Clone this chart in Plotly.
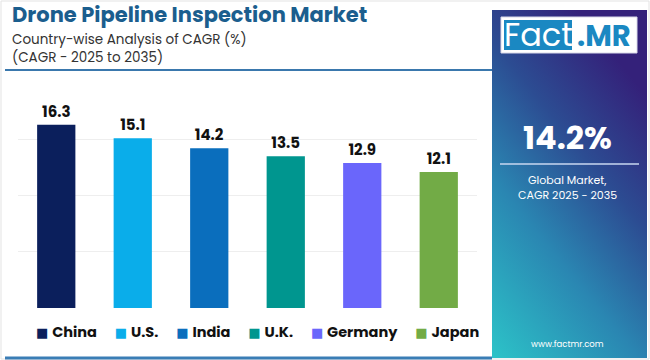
import base64
import plotly.graph_objects as go

countries = ["China", "U.S.", "India", "U.K.", "Germany", "Japan"]
cagr = [16.3, 15.1, 14.2, 13.5, 12.9, 12.1]
colors = ["#0b1f5c", "#0aadea", "#0a6ebd", "#00968f", "#6a66fb", "#72ab46"]

title = "Drone Pipeline Inspection Market"
subtitle1 = "Country-wise Analysis of CAGR (%)"
subtitle2 = "(CAGR - 2025 to 2035)"
global_value = "14.2%"
global_label1 = "Global Market,"
global_label2 = "CAGR 2025 - 2035"
website = "www.factmr.com"

W, H = 650, 360
FONT = "Poppins, Inter, 'Open Sans', sans-serif"

def px(x):
    return x / W

def py(y):
    return 1 - y / H

fig = go.Figure()
for c, v, col in zip(countries, cagr, colors):
    fig.add_trace(go.Bar(
        x=[c], y=[v], name=c, marker=dict(color=col, line=dict(width=0)),
        width=0.5, text=[f"{v}"], textposition="outside", cliponaxis=False,
        textfont=dict(family=FONT, size=15, color="#111111", weight="bold"),
        hoverinfo="x+y", showlegend=False,
    ))

# legend built as one text line from the lists
gap = "&nbsp;" * 4 + "<span style='font-size:9px'>&nbsp;</span>"
legend_text = gap.join(
    f"<span style='color:{col}; font-family:DejaVu Sans; font-size:13px'>■</span>&nbsp;<b>{c}</b>"
    for c, col in zip(countries, colors)
)

# gradient panel via SVG data URI
svg = (
    '<svg xmlns="http://www.w3.org/2000/svg" width="155" height="348">'
    '<defs><linearGradient id="g" x1="0" y1="1" x2="0.55" y2="0">'
    '<stop offset="0" stop-color="#2cc3c8"/>'
    '<stop offset="0.4" stop-color="#2a86b2"/>'
    '<stop offset="0.7" stop-color="#2c4c92"/>'
    '<stop offset="1" stop-color="#34217a"/>'
    '</linearGradient></defs>'
    '<rect width="155" height="348" fill="url(#g)"/></svg>'
)
uri = "data:image/svg+xml;base64," + base64.b64encode(svg.encode()).decode()

def note(text, x, y, size, color, anchor="left"):
    return dict(text=text, xref="paper", yref="paper", x=px(x), y=py(y),
                xanchor=anchor, yanchor="middle", showarrow=False, borderpad=0,
                font=dict(family=FONT, size=size, color=color))

fig.update_layout(
    width=W, height=H,
    margin=dict(l=0, r=0, t=0, b=0, autoexpand=False),
    paper_bgcolor="white", plot_bgcolor="white",
    barmode="overlay",
    showlegend=False,
    xaxis=dict(domain=[px(18), px(477)], showticklabels=False, showgrid=False,
               zeroline=False, showline=False, ticks=""),
    yaxis=dict(domain=[py(308), py(83)], range=[0, 20], dtick=5, showticklabels=False,
               showgrid=True, gridcolor="#eeeeee", gridwidth=1, zeroline=False,
               showline=False, ticks=""),
    images=[dict(source=uri, xref="paper", yref="paper", x=px(492), y=py(10),
                 sizex=px(647) - px(492), sizey=py(10) - py(358),
                 xanchor="left", yanchor="top", sizing="stretch", layer="below")],
    shapes=[
        dict(type="rect", xref="paper", yref="paper", x0=px(1), x1=px(649), y0=py(359), y1=py(1),
             line=dict(color="#e3e3e3", width=1), fillcolor="rgba(0,0,0,0)", layer="below"),
        dict(type="line", xref="paper", yref="paper", x0=px(5), x1=px(492), y0=py(70), y1=py(70),
             line=dict(color="#3a78ad", width=2)),
        dict(type="line", xref="paper", yref="paper", x0=px(5), x1=px(492), y0=py(358), y1=py(358),
             line=dict(color="#3a7db5", width=3)),
        dict(type="rect", xref="paper", yref="paper", x0=px(501), x1=px(637), y0=py(53), y1=py(17),
             fillcolor="white", line=dict(color="#d8d8e8", width=1)),
        dict(type="rect", xref="paper", yref="paper", x0=px(504), x1=px(572), y0=py(50), y1=py(20),
             fillcolor="#1a88c2", line=dict(width=0)),
        dict(type="line", xref="paper", yref="paper", x0=px(500), x1=px(639), y0=py(164), y1=py(164),
             line=dict(color="rgba(200,215,240,0.75)", width=2)),
    ],
    annotations=[
        note(f"<b>{title}</b>", 11, 15, 21, "#1b5e8e"),
        note(subtitle1, 11, 39, 13.5, "#333333"),
        note(subtitle2, 11, 58, 13.5, "#333333"),
        note(legend_text, 35, 332, 14.5, "#111111"),
        note("Fact", 538, 35, 32, "white", "center"),
        note("<b>.MR</b>", 604, 36, 29, "#1a88c2", "center"),
        note(f"<b>{global_value}</b>", 567, 137, 32, "white", "center"),
        note(global_label1, 567, 180, 11, "white", "center"),
        note(global_label2, 567, 195, 11, "white", "center"),
        note(website, 567, 344, 8.5, "white", "center"),
    ],
)

fig.write_html("out.html", post_script="document.body.style.margin='0px';",
               config={"displayModeBar": False})
